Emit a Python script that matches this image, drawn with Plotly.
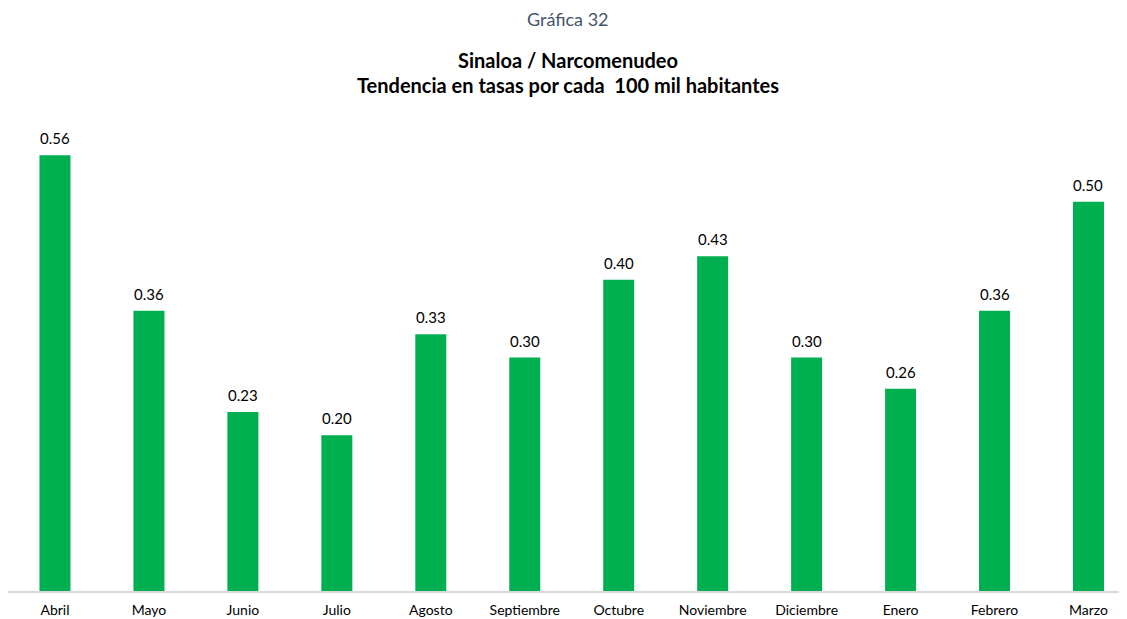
import plotly.graph_objects as go

meses = ["Abril", "Mayo", "Junio", "Julio", "Agosto", "Septiembre", "Octubre",
         "Noviembre", "Diciembre", "Enero", "Febrero", "Marzo"]
tasas = [0.56, 0.36, 0.23, 0.20, 0.33, 0.30, 0.40, 0.43, 0.30, 0.26, 0.36, 0.50]
etiquetas = [f"{v:.2f}" for v in tasas]

W, H = 1119, 611
T, B = 102, 28

fig = go.Figure(go.Bar(
    x=meses, y=tasas,
    marker=dict(color="#00B050", line=dict(width=0)),
    width=0.33,
    cliponaxis=False, hoverinfo="x+y",
))

ph = H - T - B
def ypaper(py):
    # py is screen y (page has 8px body margin)
    return (H - B - (py - 8)) / ph

annots = [
    dict(text="Gráfica 32", x=0.5, y=ypaper(19), xref="paper", yref="paper",
         yanchor="middle", showarrow=False, font=dict(size=18, color="#44546A")),
    dict(text="<b>Sinaloa / Narcomenudeo</b>", x=0.5, y=ypaper(60), xref="paper",
         yref="paper", yanchor="middle", showarrow=False,
         font=dict(size=20, color="#000000")),
    dict(text="<b>Tendencia en tasas por cada  100 mil habitantes</b>", x=0.5,
         y=ypaper(85), xref="paper", yref="paper", yanchor="middle",
         showarrow=False, font=dict(size=20, color="#000000")),
]
for m, v, t in zip(meses, tasas, etiquetas):
    annots.append(dict(text=t, x=m, y=v, xref="x", yref="y", yanchor="bottom",
                       yshift=6, showarrow=False,
                       font=dict(size=15, color="#000000")))

fig.update_layout(
    width=W, height=H,
    paper_bgcolor="white", plot_bgcolor="white",
    margin=dict(l=0, r=0, t=T, b=B),
    showlegend=False,
    font=dict(family="Lato, Open Sans, sans-serif", color="#000000"),
    annotations=annots,
)

fig.update_xaxes(showgrid=False, showline=True, linecolor="#D9D9D9", linewidth=1.5,
                 ticks="outside", ticklen=5, tickcolor="rgba(0,0,0,0)",
                 range=[-0.5, 11.41], tickfont=dict(size=14, color="#000000"))
fig.update_yaxes(visible=False, range=[0, 0.618], showgrid=False, zeroline=False)

fig.write_html("out.html")
